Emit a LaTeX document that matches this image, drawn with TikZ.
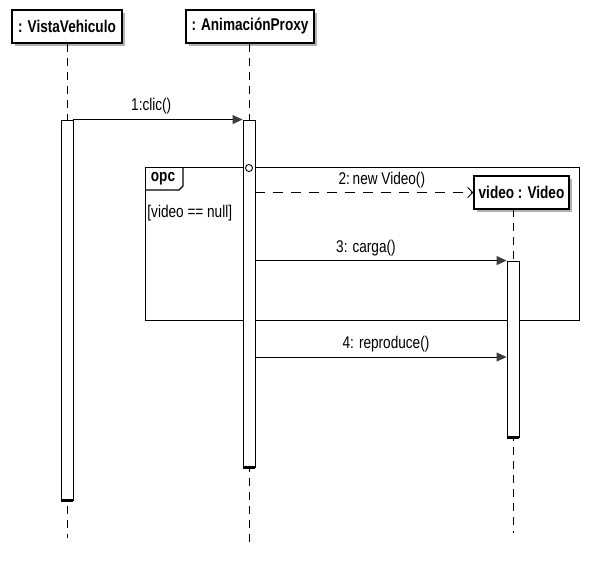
\documentclass[tikz,border=0pt]{standalone}
\usepackage{fontspec}
\setmainfont[FakeStretch=0.8]{Liberation Sans}
\usetikzlibrary{arrows.meta, positioning, shadows}
\definecolor{tipgray}{HTML}{3C3C3C}
\tikzstyle{sequence}=[x=1pt, y=-1pt, font=\fontsize{17}{19}\selectfont, line width=0.9pt]
\tikzstyle{object}=[draw, line width=1.4pt, fill=white, minimum height=33pt, inner sep=2pt, font=\bfseries\fontsize{17}{19}\selectfont, drop shadow={shadow xshift=3pt, shadow yshift=-3pt, fill=black!30, opacity=1}]
\tikzstyle{lifeline}=[dash pattern=on 8pt off 6pt]
\tikzstyle{activation}=[draw, fill=white, minimum width=12pt, inner sep=0pt]
\tikzstyle{fragment}=[draw, line width=1.2pt, inner sep=0pt]
\tikzstyle{call}=[-{Triangle[length=10pt, width=9pt, color=tipgray]}]
\tikzstyle{create}=[dash pattern=on 10pt off 8pt, -{Straight Barb[length=5pt, width=10pt]}]
\tikzstyle{msg}=[above=3pt, inner sep=1pt]

\begin{document}
\begin{tikzpicture}[sequence]
  \useasboundingbox (0,0) rectangle (590,566);
  % combined fragment
  \node[fragment, minimum width=434pt, minimum height=153pt, anchor=north west] (opc) at (145,167) {};
  \draw[line width=1.2pt] (opc.north west) ++(0,23) -- ++(34,0) -- ++(4,-4) -- ++(0,-19);
  \node[font=\bfseries\fontsize{17}{19}\selectfont] (opctag) at (163,179) {opc};
  \node[anchor=west, inner sep=0pt] (guard) at (147,213) {[video == null]};
  % objects
  \node[object, minimum width=110pt] (vista) at (67,26.5) {: VistaVehiculo};
  \node[object, minimum width=128pt] (proxy) at (250,26.5) {: AnimaciónProxy};
  \node[object, minimum width=95pt] (video) at (521.5,192.5) {video : Video};
  % lifelines
  \coordinate (vistaEnd) at (67,538);
  \coordinate (proxyEnd) at (249,542);
  \coordinate (videoTop) at (513,209);
  \coordinate (videoEnd) at (513,533);
  \draw[lifeline] (vista.south) -- (vistaEnd);
  \draw[lifeline] (proxy.south -| proxyEnd) -- (proxyEnd);
  \draw[lifeline] (videoTop) -- (videoEnd);
  % activations
  \node[activation, minimum height=380pt] (vistaAct) at (67,310) {};
  \node[activation, minimum height=347pt] (proxyAct) at (249,293.5) {};
  \node[activation, minimum height=176pt] (videoAct) at (513,349) {};
  \foreach \a in {vistaAct, proxyAct, videoAct}
    \draw[line width=2.2pt] (\a.south west) -- (\a.south east);
  \node[draw, circle, fill=white, inner sep=0pt, minimum size=7pt] (guardIn) at (249,168) {};
  % messages
  \draw[call] (vistaAct.north east) -- (proxyAct.north west) node[msg, above=4pt, pos=0.46] {1:clic()};
  \draw[create] (proxyAct.east |- video.west) -- (video.west) node[msg, pos=0.58] {2:\,new Video()};
  \draw[call] (proxyAct.east |- videoAct.north) -- (videoAct.north west) node[msg, pos=0.44] {3: carga()};
  \coordinate (play) at (513,357);
  \draw[call] (proxyAct.east |- play) -- (videoAct.west |- play) node[msg, above=4pt, pos=0.52] {4: reproduce()};
\end{tikzpicture}
\end{document}
